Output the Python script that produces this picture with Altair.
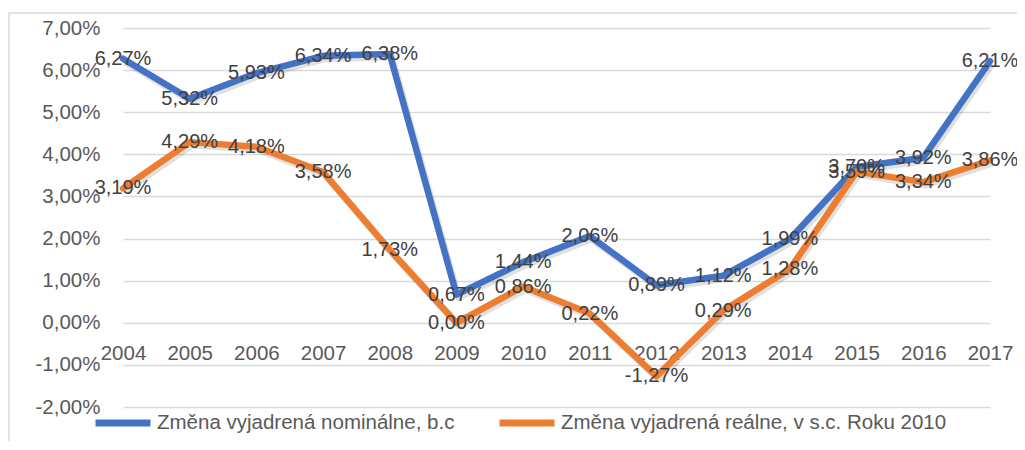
import altair as alt
import pandas as pd

years = ["2004", "2005", "2006", "2007", "2008", "2009", "2010",
         "2011", "2012", "2013", "2014", "2015", "2016", "2017"]
nominal = [6.27, 5.32, 5.93, 6.34, 6.38, 0.67, 1.44, 2.06, 0.89, 1.12, 1.99, 3.70, 3.92, 6.21]
real = [3.19, 4.29, 4.18, 3.58, 1.73, 0.00, 0.86, 0.22, -1.27, 0.29, 1.28, 3.59, 3.34, 3.86]
series_names = ["Změna vyjadrená nominálne, b.c", "Změna vyjadrená reálne, v s.c. Roku 2010"]
series_colors = ["#4472C4", "#ED7D31"]
y_ticks = [-2, -1, 0, 1, 2, 3, 4, 5, 6, 7]

rows = []
for name, vals in zip(series_names, [nominal, real]):
    for yr, v in zip(years, vals):
        rows.append({"year": yr, "value": v, "series": name,
                     "label": f"{v:.2f}".replace(".", ",") + "%"})
df = pd.DataFrame(rows)

FONT = "Liberation Sans"
FS = 20

x_enc = alt.X("year:O", scale=alt.Scale(type="point", padding=0),
              axis=alt.Axis(title=None, orient="bottom", offset=-84.2, domain=False,
                            ticks=False, labelAngle=0, labelPadding=21,
                            labelFontSize=FS + 0.5, labelColor="#595959", labelFont=FONT,
                            grid=False))
y_enc = alt.Y("value:Q", scale=alt.Scale(domain=[-2, 7], nice=False, zero=False),
              axis=alt.Axis(title=None, values=y_ticks, domain=False, ticks=False,
                            labelPadding=23, labelFontSize=FS + 0.5, labelColor="#595959",
                            labelFont=FONT, gridColor="#d9d9d9", gridWidth=1.3,
                            labelExpr="(datum.value < 0 ? '-' : '') + replace(format(abs(datum.value), '.2f'), '.', ',') + '%'"))

base = alt.Chart(df)

shadow = base.mark_line(strokeWidth=7, color="#000000", opacity=0.12,
                        xOffset=2, yOffset=3, strokeJoin="round").encode(
    x=x_enc, y=y_enc, detail="series:N")

lines = base.mark_line(strokeWidth=6.5, strokeJoin="round", strokeCap="round").encode(
    x=x_enc, y=y_enc,
    color=alt.Color("series:N",
                    scale=alt.Scale(domain=series_names, range=series_colors),
                    sort=series_names,
                    legend=alt.Legend(title=None, orient="none", legendX=-31, legendY=364,
                                      direction="horizontal", symbolType="stroke",
                                      symbolStrokeWidth=7, symbolSize=3025,
                                      labelFontSize=FS + 0.5, labelFont=FONT,
                                      labelColor="#595959", columnPadding=30,
                                      labelOffset=3, labelLimit=600)))

labels = base.mark_text(fontSize=FS, font=FONT, color="#404040",
                        align="center", baseline="middle").encode(
    x=x_enc, y=y_enc, text="label:N", detail="series:N")

frame = alt.Chart(pd.DataFrame({"a": [0]})).mark_rect(
    fillOpacity=0, stroke="#d9d9d9", strokeWidth=1.5).encode(
    x=alt.value(-114), x2=alt.value(940), y=alt.value(-15), y2=alt.value(470))

chart = alt.layer(frame, shadow, lines, labels).properties(
    width=867, height=379,
    autosize=alt.AutoSizeParams(type="none"),
    padding={"left": 115, "top": 20, "right": 27, "bottom": 34},
    background="white",
).configure_view(strokeWidth=0)

chart.save("out.html", embed_options={"renderer": "svg", "actions": False})
